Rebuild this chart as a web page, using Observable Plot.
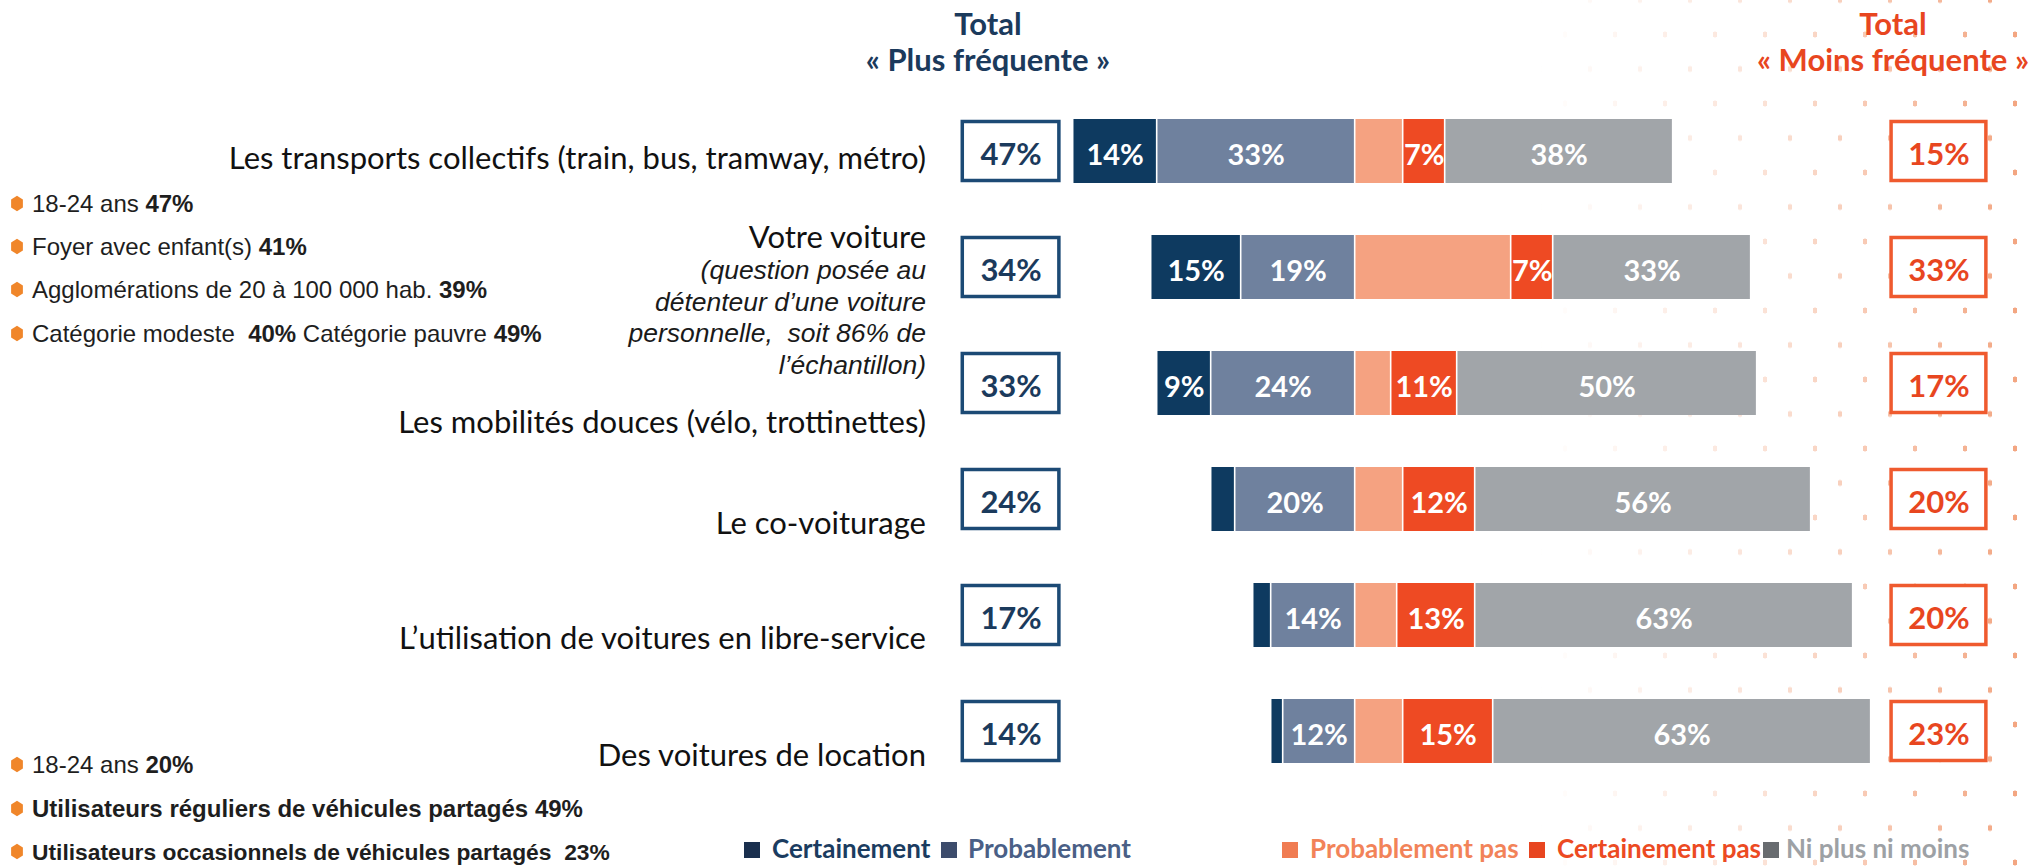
<!DOCTYPE html>
<html lang="fr">
<head>
<meta charset="utf-8">
<script src="https://cdn.jsdelivr.net/npm/d3@7"></script>
<script src="https://cdn.jsdelivr.net/npm/@observablehq/plot@0.6"></script>
<style>
  html, body { margin: 0; padding: 0; background: #ffffff; }
  #wrap { position: relative; width: 2031px; height: 867px; overflow: hidden; }
  #dots {
    position: absolute; left: 1540px; top: 0; width: 491px; height: 867px;
    background-image:
      radial-gradient(ellipse 2.4px 3.2px at center, #f2a27c 90%, transparent 100%),
      radial-gradient(ellipse 2.4px 3.2px at center, #f2a27c 90%, transparent 100%);
    background-size: 50px 69px, 50px 69px;
    background-position: 0px 0px, 25px 34.5px;
    -webkit-mask-image: linear-gradient(to right, rgba(0,0,0,0), rgba(0,0,0,0.3) 45%, rgba(0,0,0,1));
    mask-image: linear-gradient(to right, rgba(0,0,0,0), rgba(0,0,0,0.3) 45%, rgba(0,0,0,1));
  }
  #chart { position: absolute; left: 0; top: 0; }
</style>
</head>
<body>
<div id="wrap"><div id="dots"></div><div id="chart"></div></div>
<script>
// ---------------- DATA ----------------
const categories = [
  "Les transports collectifs (train, bus, tramway, métro)",
  "Votre voiture",
  "Les mobilités douces (vélo, trottinettes)",
  "Le co-voiturage",
  "L’utilisation de voitures en libre-service",
  "Des voitures de location"
];
const votreVoitureNote = ["(question posée au", "détenteur d’une voiture", "personnelle,  soit 86% de", "l’échantillon)"];
const certainement    = [14, 15, 9, 4, 3, 2];
const probablement    = [33, 19, 24, 20, 14, 12];
const probablementPas = [8, 26, 6, 8, 7, 8];
const certainementPas = [7, 7, 11, 12, 13, 15];
const niPlusNiMoins   = [38, 33, 50, 56, 63, 63];
const totalPlus  = [47, 34, 33, 24, 17, 14];
const totalMoins = [15, 33, 17, 20, 20, 23];
const seriesNames  = ["Certainement", "Probablement", "Probablement pas", "Certainement pas", "Ni plus ni moins"];
const seriesColors = ["#0e3a60", "#6f819e", "#f5a281", "#ee4a23", "#a1a5a9"];
const legendSquare = ["#1a2f4e", "#3d4c6c", "#f07c52", "#e84520", "#686c70"];
const legendText   = ["#1b3c60", "#4a5f86", "#f28359", "#ec4a22", "#9da1a5"];
const headerPlus  = ["Total", "« Plus fréquente »"];
const headerMoins = ["Total", "« Moins fréquente »"];
const notesTop = [
  [["18-24 ans ", false], ["47%", true]],
  [["Foyer avec enfant(s) ", false], ["41%", true]],
  [["Agglomérations de 20 à 100 000 hab. ", false], ["39%", true]],
  [["Catégorie modeste  ", false], ["40%", true], [" Catégorie pauvre ", false], ["49%", true]]
];
const notesBottom = [
  [["18-24 ans ", false], ["20%", true]],
  [["Utilisateurs réguliers de véhicules partagés 49%", true]],
  [["Utilisateurs occasionnels de véhicules partagés  23%", true]]
];

// ---------------- LAYOUT ----------------
const W = 2031, H = 867;
const CAL = "Lato, 'Open Sans', sans-serif";
const ARIAL = "'Liberation Sans', Arial, Helvetica, sans-serif";
const leftBox = [-65.4, -49.3];   // column of the "plus" totals, in % units of the x scale
const rightBox = [89.4, 105.2];   // column of the "moins" totals
const navy = "#1c4a75", navyText = "#1b3a5c", red = "#ef5a2e", redText = "#e8461f";

const segs = [];
categories.forEach((c, i) => {
  const a = certainement[i], b = probablement[i], p = probablementPas[i], q = certainementPas[i], n = niPlusNiMoins[i];
  segs.push({cat: c, key: seriesNames[0], x1: -(a + b), x2: -b, v: a});
  segs.push({cat: c, key: seriesNames[1], x1: -b, x2: 0, v: b});
  segs.push({cat: c, key: seriesNames[2], x1: 0, x2: p, v: p});
  segs.push({cat: c, key: seriesNames[3], x1: p, x2: p + q, v: q});
  segs.push({cat: c, key: seriesNames[4], x1: p + q, x2: p + q + n, v: n});
});
const boxes = categories.map((c, i) => ({cat: c, plus: totalPlus[i], moins: totalMoins[i]}));

const plot = Plot.plot({
  width: W, height: H,
  marginTop: 0, marginBottom: 0, marginLeft: 0, marginRight: 0,
  style: {background: "transparent", overflow: "visible"},
  x: {domain: [-225.78, 112.72], range: [0, W], axis: null},
  y: {type: "band", domain: categories, range: [91.25, 790.25], paddingInner: 0.45, paddingOuter: 0.225, axis: null},
  color: {domain: seriesNames, range: seriesColors},
  marks: [
    Plot.barX(segs, {y: "cat", x1: "x1", x2: "x2", fill: "key", insetLeft: 0.8, insetRight: 0.8}),
    Plot.text(segs.filter(d => d.key !== "Probablement pas" && d.v >= 5), {
      y: "cat", x: d => (d.x1 + d.x2) / 2, text: d => d.v + "%",
      fill: "white", fontSize: 29, fontWeight: "bold", fontFamily: CAL, dy: 4
    }),
    Plot.barX(boxes, {y: "cat", x1: () => leftBox[0], x2: () => leftBox[1], fill: "white", stroke: navy, strokeWidth: 3.5, insetTop: 2.5, insetBottom: 2.5}),
    Plot.text(boxes, {y: "cat", x: () => (leftBox[0] + leftBox[1]) / 2, text: d => d.plus + "%", fill: navyText, fontSize: 31, fontWeight: "bold", fontFamily: CAL, dy: 4}),
    Plot.barX(boxes, {y: "cat", x1: () => rightBox[0], x2: () => rightBox[1], fill: "white", stroke: red, strokeWidth: 3.5, insetTop: 2.5, insetBottom: 2.5}),
    Plot.text(boxes, {y: "cat", x: () => (rightBox[0] + rightBox[1]) / 2, text: d => d.moins + "%", fill: redText, fontSize: 31, fontWeight: "bold", fontFamily: CAL, dy: 4})
  ]
});
document.getElementById("chart").appendChild(plot);

// ---------------- ANNOTATIONS (text placed with d3 using the plot's scales) ----------------
const svg = d3.select(plot);
const ys = plot.scale("y");
const yc = c => ys.apply(c) + ys.bandwidth / 2;
const g = svg.append("g").attr("text-anchor", "start");

// headers
function header(lines, cx, color) {
  [35, 71].forEach((by, k) => {
    g.append("text").attr("x", cx).attr("y", by).attr("text-anchor", "middle")
      .attr("font-family", CAL).attr("font-weight", "bold").attr("font-size", 31)
      .attr("fill", color).text(lines[k]);
  });
}
header(headerPlus, 988, "#1b3a5c");
header(headerMoins, 1893, "#e8461f");

// category labels
const labelX = 926;
const labelOffsets = [17.5, -19, 50, 35, 34, 35];
categories.forEach((c, i) => {
  g.append("text").attr("x", labelX).attr("y", yc(c) + labelOffsets[i]).attr("text-anchor", "end")
    .attr("font-family", CAL).attr("font-size", 31).attr("fill", "#111").text(c);
});
votreVoitureNote.forEach((t, k) => {
  g.append("text").attr("x", labelX).attr("y", yc(categories[1]) + 12 + k * 31.7).attr("text-anchor", "end")
    .attr("font-family", ARIAL).attr("font-style", "italic").attr("font-size", 26.5).attr("fill", "#1a1a1a").text(t);
});

// notes with orange hexagon bullets
const hex = (cx, cy) => {
  const pts = [];
  for (let k = 0; k < 6; k++) {
    const a = Math.PI / 6 + k * Math.PI / 3;
    pts.push([cx + 6.8 * Math.cos(a), cy + 7.8 * Math.sin(a)]);
  }
  return pts.map(p => p.join(",")).join(" ");
};
function notes(list, baselines, sizes) {
  list.forEach((parts, k) => {
    const by = baselines[k];
    g.append("polygon").attr("points", hex(17, by - 8.5)).attr("fill", "#f0862a");
    const t = g.append("text").attr("x", 32).attr("y", by).attr("text-anchor", "start")
      .attr("font-family", ARIAL).attr("font-size", sizes[k]).attr("fill", "#1e1e1e");
    parts.forEach(([s, b]) => t.append("tspan").attr("font-weight", b ? "bold" : "normal").text(s));
  });
}
notes(notesTop, [212, 255, 298, 342], [24, 24, 24, 24]);
notes(notesBottom, [773, 817, 860], [24, 24, 22.8]);

// legend
const legSq = [744, 941, 1282, 1529, 1763];
const legTx = [772, 968, 1310, 1557, 1786];
seriesNames.forEach((s, i) => {
  g.append("rect").attr("x", legSq[i]).attr("y", 842).attr("width", 16).attr("height", 16).attr("fill", legendSquare[i]);
  g.append("text").attr("x", legTx[i]).attr("y", 858).attr("text-anchor", "start").attr("font-family", CAL).attr("font-weight", "bold")
    .attr("font-size", 26).attr("fill", legendText[i]).text(s);
});
</script>
</body>
</html>
